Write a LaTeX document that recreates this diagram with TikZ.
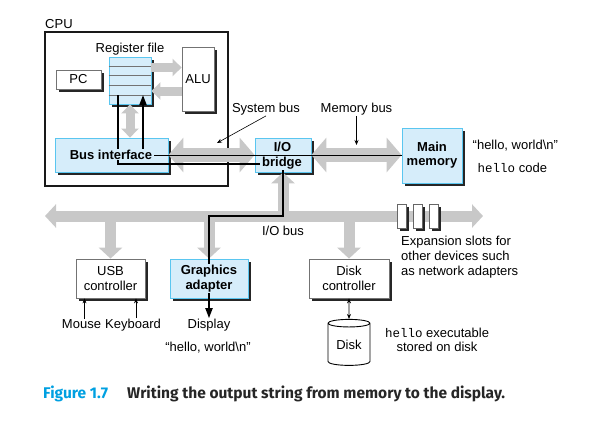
\documentclass[tikz,border=0pt]{standalone}
\usepackage{fontspec}
\setmainfont{Liberation Sans}
\setmonofont{Liberation Mono}
\newfontfamily\capfont{Fira Sans}
\usepackage{tikz}
\usetikzlibrary{shapes.geometric, arrows}
\usetikzlibrary{arrows.meta, shadows, calc}

\definecolor{boxblue}{RGB}{214,237,250}
\definecolor{boxedge}{RGB}{90,198,240}
\definecolor{busgray}{RGB}{200,200,200}
\definecolor{figcyan}{RGB}{0,160,225}

\tikzstyle{boxshadow} = [drop shadow={shadow xshift=2.5pt, shadow yshift=-2.5pt, opacity=1, fill=black!85}]
\tikzstyle{unit} = [rectangle, draw=boxedge, fill=boxblue, line width=0.8pt, inner sep=0pt, boxshadow]
\tikzstyle{device} = [rectangle, draw=black!55, fill=white, line width=0.8pt, inner sep=0pt, align=center, boxshadow]
\tikzstyle{cpubox} = [rectangle, draw=black!90, line width=1.3pt, minimum width=183, minimum height=154]
\tikzstyle{slot} = [rectangle, draw=black!60, fill=white, line width=0.6pt, minimum width=9, minimum height=24, inner sep=0pt, boxshadow]
\tikzstyle{rowline} = [draw=black!55, line width=0.5pt]
\tikzstyle{cover} = [fill=boxblue, inner ysep=0.5pt, inner xsep=2pt, font=\bfseries]
\tikzstyle{txt} = [inner sep=0.5pt]
\tikzstyle{bigbus} = [draw=busgray, line width=14pt, >={Triangle[length=15pt,width=34pt]}]
\tikzstyle{iobus} = [draw=busgray, line width=11pt, >={Triangle[length=11pt,width=23pt]}]
\tikzstyle{regbus} = [draw=busgray, line width=9pt, >={Triangle[length=9pt,width=17pt]}]
\tikzstyle{wire} = [line width=1.8pt, ->, >={Triangle[length=10pt,width=7pt]}]
\tikzstyle{pointer} = [line width=0.6pt, ->, >={Stealth[length=5pt,width=4pt]}]

\begin{document}
\fontsize{13}{15}\selectfont
\begin{tikzpicture}[x=1pt,y=-1pt]
\useasboundingbox (0,0) rectangle (590,440);

% CPU chip
\node[cpubox] (cpu) at (136.5,109) {};
\node[txt, anchor=base west, inner sep=0pt] (cpulbl) at (45,28) {CPU};
\node[unit, minimum width=42, minimum height=47] (rf) at (130,80.5) {};
\foreach \r in {1,...,4}
  \draw[rowline] ($(rf.north west)!\r/5!(rf.south west)$) -- ($(rf.north east)!\r/5!(rf.south east)$);
\node[txt, anchor=base] (rflbl) at (130,52) {Register file};
\node[device, minimum width=45, minimum height=19] (pc) at (78.5,79.5) {PC};
\node[device, minimum width=32, minimum height=64] (alu) at (198,79) {ALU};
\node[unit, minimum width=113, minimum height=34] (busif) at (111.5,155) {};

% bridge, memory
\node[unit, minimum width=56, minimum height=34] (bridge) at (283,155) {};
\node[unit, minimum width=60, minimum height=55, font=\bfseries, align=center] (mem) at (432,155.5) {Main\\[-1pt]memory};
\node[txt, anchor=base west] (msgmem) at (472,149.5) {“hello, world\textbackslash n”};
\node[txt, anchor=base west] (codemem) at (477,172.7) {{\fontsize{12.5}{15}\ttfamily hello} code};
\node[txt, anchor=base] (sysbus) at (266,112.5) {System bus};
\node[txt, anchor=base] (membus) at (356.5,112.5) {Memory bus};
\coordinate (sbtip) at (217,143);
\coordinate (mbtip) at (356.5,145);

% I/O devices
\node[device, minimum width=69, minimum height=39] (usb) at (110.5,278.5) {USB\\controller};
\node[unit, minimum width=78, minimum height=39] (ga) at (209,278.5) {};
\node[device, minimum width=80, minimum height=39] (dc) at (349,278.5) {Disk\\controller};
\node[txt, anchor=base] (mouse) at (81.5,328.3) {Mouse};
\node[txt, anchor=base] (kbd) at (133,328.3) {Keyboard};
\node[txt, anchor=base] (disp) at (209,328.3) {Display};
\node[txt, anchor=base] (msgdisp) at (208,351.7) {“hello, world\textbackslash n”};
\node[cylinder, shape border rotate=90, draw, line width=0.9pt, aspect=0.3, minimum width=42, minimum height=46, inner sep=0pt, fill=white] (disk) at (349,344.5) {Disk};
\node[txt, align=center, inner sep=0pt] (exe) at (437,339.8) {{\fontsize{12.5}{15}\ttfamily hello} executable\\[-0.6pt]stored on disk};
\node[txt, anchor=base] (iolbl) at (283,235) {I/O bus};
\node[txt, anchor=west, align=left, inner sep=0pt] (explbl) at (401,257.5) {Expansion slots for\\other devices such\\as network adapters};
\coordinate (iol) at (45,216);
\coordinate (ior) at (483,216);

% buses
\draw[regbus,->] ([yshift=13pt]rf.east) -- ([yshift=13pt]rf.east -| alu.west);
\draw[regbus,->] ([yshift=-12pt]alu.west) -- ([yshift=-12pt]alu.west -| rf.east);
\draw[regbus,<->] (rf.south) -- (busif.north -| rf.south);
\draw[bigbus,<->] (busif.east) -- (bridge.west);
\draw[bigbus,<->] (bridge.east) -- (bridge.east -| mem.west);
\draw[iobus,<->] (iol) -- (ior);
\draw[iobus,->] (bridge.south |- iol) -- (bridge.south);
\foreach \dev in {usb,ga,dc}
  \draw[iobus,->] (\dev.north |- iol) -- (\dev.north);
\foreach \sx [count=\k] in {401.5,417.5,433.5}
  \node[slot] (slot\k) at (\sx,216) {};

% data paths
\coordinate (rfin) at (143,95);
\coordinate (rfout) at (118,95);
\coordinate (brdown) at (283,164);
\coordinate (busbend) at (283,216);
\draw[wire] (mem.west) -| (rfin);
\draw[wire] (rfout) |- (brdown) -- (busbend) -| (disp.north);

\node[cover, anchor=base] (bitxt) at (111,159.3) {Bus interface};
\node[cover, anchor=base] (iotxt) at (282.5,151.7) {I/O};
\node[cover, anchor=base] (brtxt) at (282,166.7) {bridge};
\node[cover, align=center] (gatxt) at (ga) {Graphics\\adapter};

\draw[pointer] (sysbus.south) -- (sbtip);
\draw[pointer] (membus.south) -- (mbtip);
\draw[pointer] ([xshift=3pt]mouse.north) -- ([xshift=3pt]mouse.north |- usb.south);
\draw[pointer] ([xshift=3pt]kbd.north) -- ([xshift=3pt]kbd.north |- usb.south);
\draw[pointer,<->] (dc.south) -- (disk.north);

% caption
\node[anchor=base west, inner sep=0pt, font=\capfont\bfseries\fontsize{15.5}{18}\selectfont, text=figcyan] (fignum) at (43,398.3) {Figure 1.7};
\node[anchor=base west, inner sep=0pt, font=\capfont\bfseries\fontsize{15.5}{18}\selectfont, text=black!85] (figtxt) at (127,398.3) {Writing the output string from memory to the display.};
\end{tikzpicture}
\end{document}
